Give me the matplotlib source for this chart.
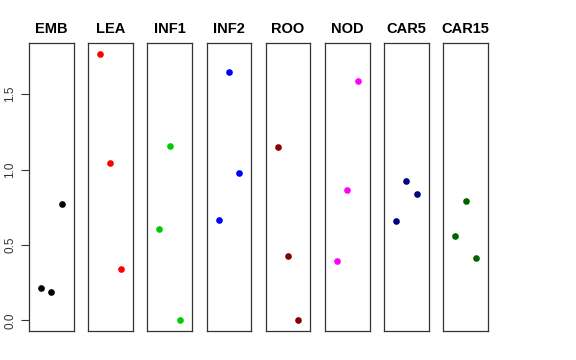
import numpy as np
import matplotlib.pyplot as plt

plt.rcParams['font.family'] = ['Liberation Sans', 'DejaVu Sans']

# data
groups = ["EMB", "LEA", "INF1", "INF2", "ROO", "NOD", "CAR5", "CAR15"]
colors = ["black", "red", "#00CD00", "blue", "#8B0000", "magenta", "#000080", "#006400"]
emb = [0.212, 0.188, 0.772]
lea = [1.769, 1.044, 0.340]
inf1 = [0.604, 1.155, 0.0]
inf2 = [0.664, 1.650, 0.980]
roo = [1.152, 0.427, 0.0]
nod = [0.394, 0.863, 1.586]
car5 = [0.661, 0.924, 0.838]
car15 = [0.559, 0.790, 0.413]
values = [emb, lea, inf1, inf2, roo, nod, car5, car15]
xpos = [1, 2, 3]
yticks = [0.0, 0.5, 1.0, 1.5]

W, H = 576, 360
fig = plt.figure(figsize=(5.76, 3.6), dpi=100)

ymax = max(max(v) for v in values)
ypad = 0.04 * ymax
left0, step, pw = 29, 59.2, 44.5
top, bot = 43, 331

for k, (g, v, c) in enumerate(zip(groups, values, colors)):
    x0 = left0 + k * step
    ax = fig.add_axes([x0 / W, (H - bot) / H, pw / W, (bot - top) / H])
    ax.plot(xpos, v, 'o', color=c, markersize=4.8, markeredgewidth=0)
    ax.set_xlim(-0.16, 4.16)
    ax.set_ylim(-ypad, ymax + ypad)
    ax.set_xticks([])
    for s in ax.spines.values():
        s.set_linewidth(0.9)
        s.set_color('#333333')
    ax.set_title(g, fontsize=10.5, fontweight='bold', pad=7)
    if k == 0:
        ax.set_yticks(yticks)
        ax.set_yticklabels(["0.0", "0.5", "1.0", "1.5"], rotation=90, va='center', fontsize=8.5)
        ax.tick_params(axis='y', length=6, width=0.8, pad=3, colors='#333333')
    else:
        ax.set_yticks([])

fig.savefig("out.png", dpi=100)
